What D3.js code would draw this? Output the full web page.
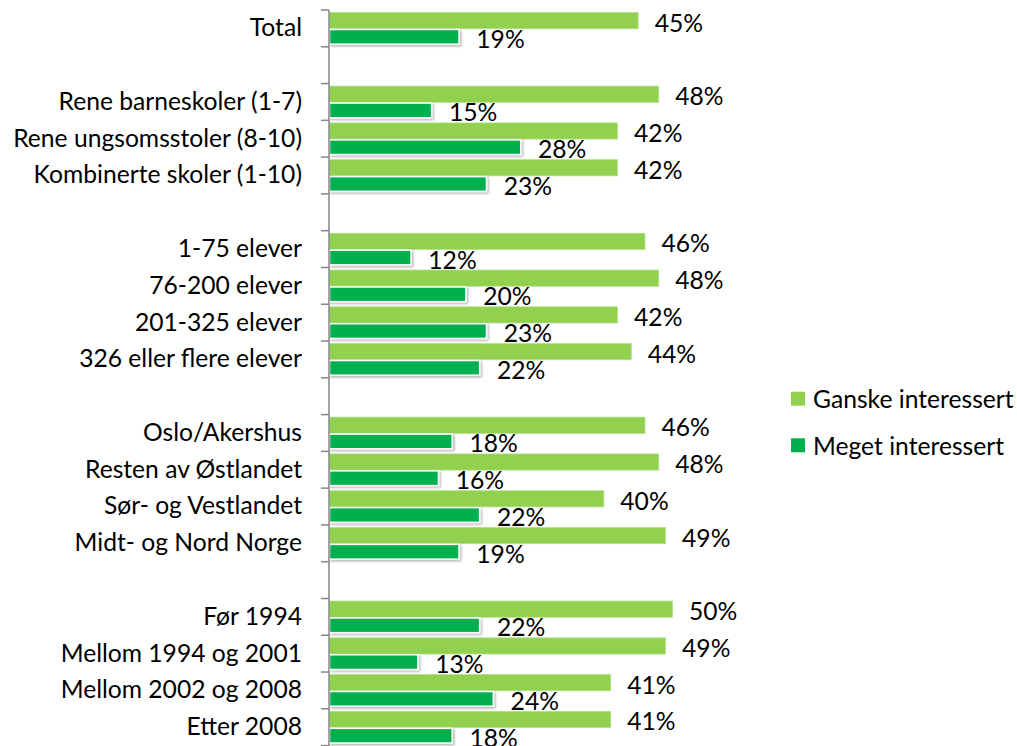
<!DOCTYPE html>
<html>
<head>
<meta charset="utf-8">
<script src="https://cdn.jsdelivr.net/npm/d3@7"></script>
<style>
  html, body { margin: 0; padding: 0; background: #fff; }
  svg { display: block; }
  text { font-family: Lato, "Open Sans", sans-serif; fill: #000; }
</style>
</head>
<body>
<div id="chart"></div>
<script>
// ---- data ----
const categories = [
  "Total", "",
  "Rene barneskoler (1-7)", "Rene ungsomsstoler (8-10)", "Kombinerte skoler (1-10)", "",
  "1-75 elever", "76-200 elever", "201-325 elever", "326 eller flere elever", "",
  "Oslo/Akershus", "Resten av Østlandet", "Sør- og Vestlandet", "Midt- og Nord Norge", "",
  "Før 1994", "Mellom 1994 og 2001", "Mellom 2002 og 2008", "Etter 2008"
];
const ganske = [45, null, 48, 42, 42, null, 46, 48, 42, 44, null, 46, 48, 40, 49, null, 50, 49, 41, 41];
const meget  = [19, null, 15, 28, 23, null, 12, 20, 23, 22, null, 18, 16, 22, 19, null, 22, 13, 24, 18];
const seriesNames = ["Ganske interessert", "Meget interessert"];
const seriesColors = ["#92D050", "#00B050"];

// ---- layout ----
const W = 1017, H = 746;
const svg = d3.select("#chart").append("svg").attr("width", W).attr("height", H);

// fit font size so text widths resemble the original
const probe = svg.append("text").attr("font-size", 100).text("Rene ungsomsstoler (8-10)");
const probeW = probe.node().getComputedTextLength();
probe.remove();
const fs = Math.min(27, 100 * 289 / probeW);

const defs = svg.append("defs");
const f = defs.append("filter").attr("id", "shadow").attr("x", "-5%").attr("y", "-30%").attr("width", "115%").attr("height", "170%");
f.append("feDropShadow").attr("dx", 1.5).attr("dy", 1.5).attr("stdDeviation", 1.2).attr("flood-color", "#000").attr("flood-opacity", 0.3);

const ids = categories.map((c, i) => i);
const y = d3.scaleBand().domain(ids).range([10, 745.6]).paddingInner(0).paddingOuter(0);
const x = d3.scaleLinear().domain([0, 60]).range([329.5, 741]);
const bw = y.bandwidth();
const ySub = d3.scaleBand().domain([0, 1]).range([0.07 * bw, 0.95 * bw]);

const rows = categories.map((c, i) => ({ i, c, vals: [ganske[i], meget[i]] }));
const g = svg.append("g");

rows.filter(r => r.vals[0] != null).forEach(r => {
  r.vals.forEach((v, s) => {
    const top = y(r.i) + ySub(s);
    const h = ySub.bandwidth();
    const rect = g.append("rect")
      .attr("x", x(0))
      .attr("y", top + (s === 1 ? 0.75 : 0))
      .attr("width", x(v) - x(0) - (s === 1 ? 0.75 : 0))
      .attr("height", h - (s === 1 ? 1.5 : 0))
      .attr("fill", seriesColors[s]);
    if (s === 1) {
      rect.attr("stroke", "#fff").attr("stroke-width", 1.5).attr("filter", "url(#shadow)");
    } else {
      rect.attr("stroke", "#b2df86").attr("stroke-width", 0.8);
    }
    g.append("text")
      .attr("x", x(v) + 16.5)
      .attr("y", top + h / 2 + 1.5)
      .attr("dominant-baseline", "central")
      .attr("font-size", fs)
      .text(v + "%");
  });
});

// axis
const axisG = svg.append("g").attr("transform", `translate(${x(0) - 0.5},0)`);
axisG.call(d3.axisLeft(y).tickSize(0).tickPadding(27).tickFormat(i => categories[i]));
axisG.select(".domain").attr("stroke", "#868686").attr("stroke-width", 1.5).attr("d", `M0,${y.range()[0]}V${H}`);
axisG.selectAll(".tick text").attr("font-size", fs).attr("font-family", "Lato, 'Open Sans', sans-serif").attr("fill", "#000");
const bounds = ids.map(i => y(i)).concat([y.range()[1]]);
axisG.selectAll(".bound").data(bounds).enter().append("line")
  .attr("class", "bound")
  .attr("x1", -8).attr("x2", 0)
  .attr("y1", d => d).attr("y2", d => d)
  .attr("stroke", "#868686").attr("stroke-width", 1.5);

// legend
const legendY = [398.7, 445.3];
const lg = svg.append("g");
seriesNames.forEach((n, s) => {
  lg.append("rect").attr("x", 791).attr("y", legendY[s] - 7).attr("width", 14).attr("height", 14).attr("fill", seriesColors[s]);
  lg.append("text").attr("x", 813).attr("y", legendY[s]).attr("dominant-baseline", "central").attr("font-size", fs).text(n);
});
</script>
</body>
</html>
